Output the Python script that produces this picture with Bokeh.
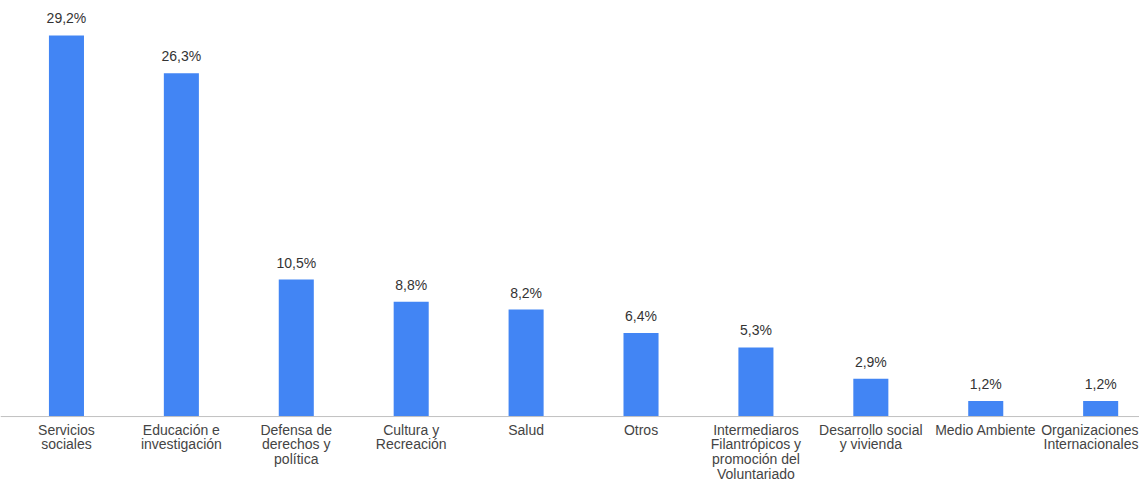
from bokeh.plotting import figure
from bokeh.models import Range1d, ColumnDataSource, Span
from bokeh.core.properties import value
from bokeh.embed import file_html
from bokeh.resources import INLINE

categories = [
    "Servicios\nsociales",
    "Educación e\ninvestigación",
    "Defensa de\nderechos y\npolítica",
    "Cultura y\nRecreación",
    "Salud",
    "Otros",
    "Intermediaros\nFilantrópicos y\npromoción del\nVoluntariado",
    "Desarrollo social\ny vivienda",
    "Medio Ambiente",
    "Organizaciones\nInternacionales",
]
values = [29.2, 26.3, 10.5, 8.8, 8.2, 6.4, 5.3, 2.9, 1.2, 1.2]

xs = list(range(len(values)))
labels = [f"{v:.1f}".replace(".", ",") + "%" for v in values]
src = ColumnDataSource(dict(x=xs, top=values, label=labels))

x_range = Range1d(-0.574, 9.338)
p = figure(width=1139, height=486, output_backend="svg", toolbar_location=None,
           x_range=x_range, y_range=Range1d(-5.36, 31.88),
           min_border_left=0, min_border_right=0, min_border_top=0, min_border_bottom=0)
p.outline_line_color = None
p.grid.visible = False
p.axis.visible = False

p.vbar(x="x", top="top", width=0.305, bottom=0, source=src,
       fill_color="#4285F4", line_color=None)
p.add_layout(Span(location=0, dimension="width", line_color="#c0c0c0", line_width=1))

p.text(x="x", y="top", text="label", source=src, text_align="center",
       text_baseline="bottom", y_offset=-9, text_font=value("Liberation Sans"),
       text_font_size="14px", text_color="#333333")

cat_style = dict(text_baseline="top", y_offset=5, text_font=value("Liberation Sans"),
                 text_font_size="14px", text_color="#444444", text_line_height=0.93)

# all category labels but the last are centred under their bar
p.text(x=xs[:-1], y=[0] * (len(xs) - 1), text=categories[:-1],
       text_align="center", **cat_style)
# the last one is kept inside the right edge of the plot
p.text(x=[x_range.end], y=[0], text=categories[-1:], text_align="right",
       x_offset=-1, **cat_style)

open("out.html", "w").write(file_html(p, INLINE))
